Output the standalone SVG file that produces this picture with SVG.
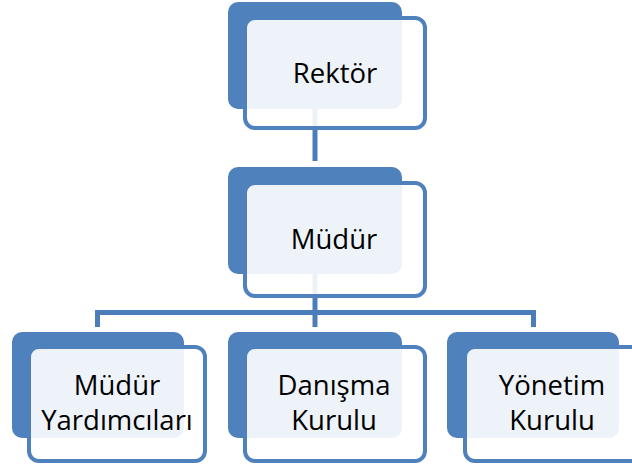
<svg xmlns="http://www.w3.org/2000/svg" width="632" height="469" viewBox="0 0 632 469">
<style>
.back{fill:#4F81BD;}
.front{fill:#FFFFFF;fill-opacity:0.9;stroke:#4F81BD;stroke-width:4;}
.conn{fill:none;stroke:#4A7DBA;stroke-width:5;}
.lbl{font-family:"Open Sans","Noto Sans","Liberation Sans",sans-serif;font-size:27.5px;fill:#000;text-anchor:middle;}
</style>
<rect width="632" height="469" fill="#FFFFFF"/>
<g id="connectors">
<path class="conn" d="M315,109 V161"/>
<path class="conn" d="M315,274 V327"/>
<path class="conn" d="M97.5,327 V312.5 H533.5 V327"/>
</g>
<g id="rektor">
<rect class="back" x="228" y="2" width="174" height="107" rx="10"/>
<rect class="front" x="245" y="18" width="180" height="110" rx="10"/>
<text class="lbl" x="335" y="83">Rektör</text>
</g>
<g id="mudur">
<rect class="back" x="228" y="167" width="174" height="107" rx="10"/>
<rect class="front" x="245" y="183" width="180" height="113" rx="10"/>
<text class="lbl" x="334" y="249">Müdür</text>
</g>
<g id="mudur-yardimcilari">
<rect class="back" x="12" y="332" width="172" height="106" rx="10"/>
<rect class="front" x="29" y="347" width="176" height="114" rx="10"/>
<text class="lbl" x="117" y="395">Müdür</text>
<text class="lbl" x="117" y="430">Yardımcıları</text>
</g>
<g id="danisma-kurulu">
<rect class="back" x="228" y="332" width="174" height="106" rx="10"/>
<rect class="front" x="245" y="347" width="180" height="114" rx="10"/>
<text class="lbl" x="334" y="395">Danışma</text>
<text class="lbl" x="334" y="430">Kurulu</text>
</g>
<g id="yonetim-kurulu">
<rect class="back" x="447" y="332" width="172" height="106" rx="10"/>
<rect class="front" x="465" y="347" width="178" height="114" rx="10"/>
<text class="lbl" x="552" y="395">Yönetim</text>
<text class="lbl" x="552" y="430">Kurulu</text>
</g>
</svg>
